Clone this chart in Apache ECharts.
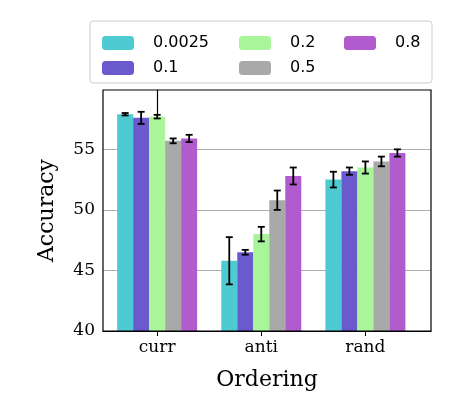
<!DOCTYPE html>
<html><head><meta charset="utf-8">
<script src="https://cdn.jsdelivr.net/npm/echarts@6/dist/echarts.min.js"></script>
<style>body{margin:0}#c{width:457px;height:403px}</style></head>
<body><div id="c"></div>
<script>
var categories = ['curr', 'anti', 'rand'];
var names = ['0.0025', '0.1', '0.2', '0.5', '0.8'];
var colors = ['#4ecbd0', '#6a5acd', '#a8f59a', '#a9a9a9', '#b15bcf'];
var means = [
  [57.9, 45.8, 52.5],
  [57.6, 46.5, 53.2],
  [57.7, 48.0, 53.5],
  [55.7, 50.8, 54.0],
  [55.9, 52.8, 54.7]
];
var errs = [
  [0.1, 1.95, 0.65],
  [0.5, 0.2, 0.3],
  [0.15, 0.6, 0.5],
  [0.2, 0.8, 0.4],
  [0.3, 0.7, 0.3]
];
var yTicks = [40, 45, 50, 55];

var barW = 16;
var series = [];
names.forEach(function(n, i) {
  series.push({name: n, type: 'bar', barWidth: barW, barGap: 0,
    data: means[i].map(function(m, j) { return [j, m]; }),
    itemStyle: {color: colors[i]}});
});
names.forEach(function(n, i) {
  series.push({type: 'custom', z: 10,
    data: means[i].map(function(m, j) { return [j, m - errs[i][j], m + errs[i][j]]; }),
    renderItem: function(params, api) {
      var lo = api.coord([api.value(0), api.value(1)]);
      var hi = api.coord([api.value(0), api.value(2)]);
      var x = lo[0] + (i - 2) * barW;
      var st = {stroke: '#000', lineWidth: 1.8};
      return {type: 'group', children: [
        {type: 'line', shape: {x1: x, y1: lo[1], x2: x, y2: hi[1]}, style: st},
        {type: 'line', shape: {x1: x - 3.5, y1: lo[1], x2: x + 3.5, y2: lo[1]}, style: st},
        {type: 'line', shape: {x1: x - 3.5, y1: hi[1], x2: x + 3.5, y2: hi[1]}, style: st}
      ]};
    }});
});

var legendBase = {itemWidth: 32, itemHeight: 14, itemGap: 9, orient: 'vertical',
  textStyle: {fontFamily: 'DejaVu Sans', fontSize: 16, color: '#000', padding: [0, 0, 0, 14]}};
var chart = echarts.init(document.getElementById('c'));
chart.setOption({
  animation: false,
  graphic: [
    {type: 'rect', shape: {x: 90, y: 21, width: 342, height: 62, r: 3},
      style: {fill: '#fff', stroke: '#ccc', lineWidth: 1}},
    {type: 'rect', shape: {x: 103, y: 90, width: 328, height: 241},
      style: {fill: 'none', stroke: '#000', lineWidth: 1.2}, z: 20}
  ],
  legend: [
    Object.assign({left: 97, top: 30, data: ['0.0025', '0.1']}, legendBase),
    Object.assign({left: 234, top: 30, data: ['0.2', '0.5']}, legendBase),
    Object.assign({left: 339, top: 30, data: ['0.8']}, legendBase)
  ],
  grid: {left: 103, right: 26, top: 90, bottom: 72},
  xAxis: {type: 'value', min: -0.52, max: 2.63, name: 'Ordering', nameLocation: 'middle', nameGap: 38,
    nameTextStyle: {fontFamily: 'DejaVu Serif', fontSize: 22, color: '#000'},
    splitLine: {show: false},
    axisLine: {lineStyle: {color: '#000', width: 1.2}},
    axisTick: {length: 5, lineStyle: {color: '#000'}, customValues: [0, 1, 2]},
    axisLabel: {fontFamily: 'DejaVu Serif', fontSize: 17, color: '#000', margin: 8,
      customValues: [0, 1, 2], formatter: function(v) { return categories[Math.round(v)]; }}},
  yAxis: {type: 'value', min: 40, max: 59.9, name: 'Accuracy', nameLocation: 'middle', nameGap: 45,
    nameTextStyle: {fontFamily: 'DejaVu Serif', fontSize: 22, color: '#000'},
    axisLine: {show: true, lineStyle: {color: '#000', width: 1.2}},
    axisTick: {show: true, length: 5, lineStyle: {color: '#000'}, customValues: yTicks},
    axisLabel: {fontFamily: 'DejaVu Serif', fontSize: 17, color: '#000', customValues: yTicks},
    splitLine: {lineStyle: {color: '#b0b0b0', width: 1.2}}},
  series: series
});
</script></body></html>
